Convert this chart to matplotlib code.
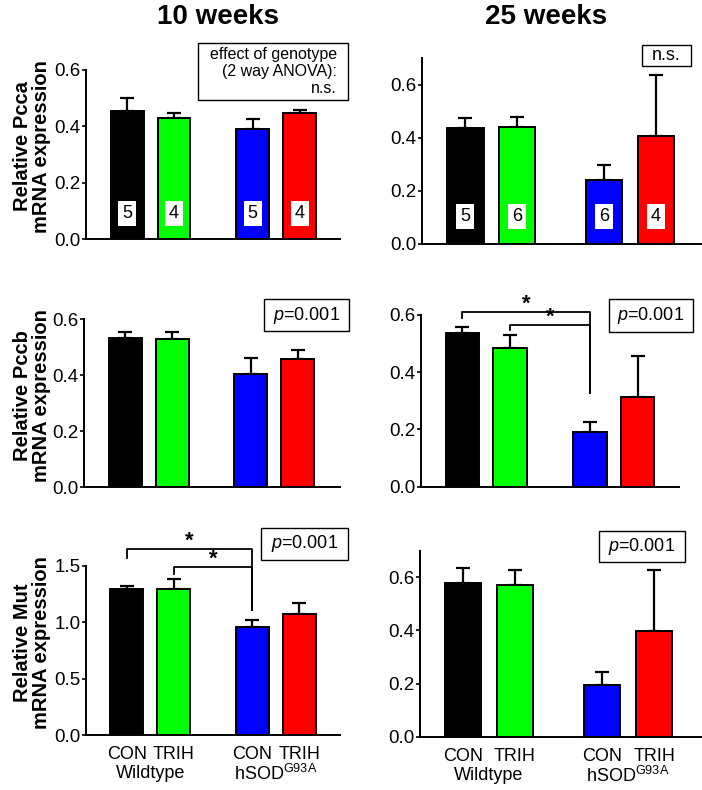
import matplotlib
matplotlib.use("Agg")
import matplotlib.pyplot as plt
from matplotlib.patches import Rectangle
import numpy as np

plt.rcParams['font.family'] = ['Liberation Sans', 'DejaVu Sans']
plt.rcParams['mathtext.fontset'] = 'custom'
plt.rcParams['mathtext.rm'] = 'Liberation Sans'
plt.rcParams['mathtext.it'] = 'Liberation Sans:italic'
plt.rcParams['mathtext.bf'] = 'Liberation Sans:bold'

# ---------------- data ----------------
groups = ["CON", "TRIH", "CON", "TRIH"]
genotypes = ["Wildtype", "hSOD$^{\\mathrm{G93A}}$"]
colors = ["#000000", "#00ff00", "#0000ff", "#ff0000"]
titles = ["10 weeks", "25 weeks"]
genes = ["Pcca", "Pccb", "Mut"]

pcca_10w = [0.454, 0.430, 0.392, 0.448]
pcca_10w_sem = [0.048, 0.018, 0.035, 0.010]
pcca_25w = [0.436, 0.440, 0.241, 0.407]
pcca_25w_sem = [0.040, 0.037, 0.055, 0.230]
pccb_10w = [0.534, 0.529, 0.406, 0.457]
pccb_10w_sem = [0.021, 0.027, 0.055, 0.032]
pccb_25w = [0.538, 0.485, 0.192, 0.313]
pccb_25w_sem = [0.021, 0.044, 0.033, 0.145]
mut_10w = [1.293, 1.298, 0.956, 1.071]
mut_10w_sem = [0.029, 0.086, 0.064, 0.097]
mut_25w = [0.579, 0.572, 0.195, 0.396]
mut_25w_sem = [0.056, 0.057, 0.048, 0.230]

n_10w = [5, 4, 5, 4]
n_25w = [5, 6, 6, 4]

stats_text = {
    (0, 0): "effect of genotype\n(2 way ANOVA):\nn.s.",
    (0, 1): "n.s.",
    (1, 0): "$p$=0.001",
    (1, 1): "$p$=0.001",
    (2, 0): "$p$=0.001",
    (2, 1): "$p$=0.001",
}

# ---------------- layout ----------------
W, H = 702, 790
fig = plt.figure(figsize=(W / 100, H / 100), dpi=100)

def fx(px):
    return px / W

def fy(py):
    return 1 - py / H

xpos = np.array([0, 1, 2.68, 3.68])
bar_w = 0.7

# (left px, right px, y0 px, px of ymax, ymax, yticks)
panels = {
    (0, 0): (86, 340, 239, 70, 0.6, [0, 0.2, 0.4, 0.6]),
    (0, 1): (421.7, 701.7, 244, 58.3, 0.7, [0, 0.2, 0.4, 0.6]),
    (1, 0): (84, 340, 487.3, 319.3, 0.6, [0, 0.2, 0.4, 0.6]),
    (1, 1): (420.7, 679.3, 486.7, 315, 0.6, [0, 0.2, 0.4, 0.6]),
    (2, 0): (86, 340, 735, 566, 1.5, [0, 0.5, 1.0, 1.5]),
    (2, 1): (420, 701.7, 736.7, 550.7, 0.7, [0, 0.2, 0.4, 0.6]),
}
xlims = {
    (0, 0): (-0.877, 4.54), (0, 1): (-0.845, 4.566),
    (1, 0): (-0.884, 4.584), (1, 1): (-0.875, 4.554),
    (2, 0): (-0.868, 4.547), (2, 1): (-0.83, 4.597),
}

data = {
    (0, 0): (pcca_10w, pcca_10w_sem), (0, 1): (pcca_25w, pcca_25w_sem),
    (1, 0): (pccb_10w, pccb_10w_sem), (1, 1): (pccb_25w, pccb_25w_sem),
    (2, 0): (mut_10w, mut_10w_sem), (2, 1): (mut_25w, mut_25w_sem),
}

# stat boxes (left, top, right, bottom) in px
boxes = {
    (0, 0): (198, 43, 348, 100),
    (0, 1): (642, 45, 691, 66),
    (1, 0): (264, 299, 349, 331),
    (1, 1): (609, 299, 693, 332),
    (2, 0): (261, 528, 348, 560),
    (2, 1): (599, 531, 685, 562),
}

# brackets: (start bar index, y line, left drop end, right drop end)
brackets = {
    (1, 1): [(0, 0.610, 0.589, 0.326), (1, 0.565, 0.548, 0.326)],
    (2, 0): [(0, 1.650, 1.568, 1.109), (1, 1.494, 1.429, 1.109)],
}

for (r, c), (l, rr, y0, yt, ymax, yt_list) in panels.items():
    ax = fig.add_axes([fx(l), fy(y0), (rr - l) / W, (y0 - yt) / H])
    means, sems = data[(r, c)]
    ax.bar(xpos, means, width=bar_w, color=colors, edgecolor="black",
           linewidth=1.4, zorder=3)
    ax.errorbar(xpos, means, yerr=[np.zeros(4), sems], fmt="none",
                ecolor="black", elinewidth=1.6, capsize=5, capthick=1.6,
                zorder=2, clip_on=False)
    ax.set_xlim(*xlims[(r, c)])
    ax.set_ylim(0, ymax)
    ax.set_yticks(yt_list)
    ax.set_yticklabels([f"{v:.1f}" for v in yt_list])
    for s in ["top", "right"]:
        ax.spines[s].set_visible(False)
    for s in ["left", "bottom"]:
        ax.spines[s].set_linewidth(1.4)
    ax.tick_params(axis="y", length=3, width=1.2, pad=1, labelsize=13.5)
    ax.tick_params(axis="x", length=0)
    ax.patch.set_alpha(0)
    if r == 2:
        ax.set_xticks(xpos)
        ax.set_xticklabels(groups, fontsize=13)
        ax.tick_params(axis="x", pad=8)
        for gi, gname in enumerate(genotypes):
            cx = (xpos[2 * gi] + xpos[2 * gi + 1]) / 2
            ax.annotate(gname, xy=(cx, 0), xycoords=("data", "axes fraction"),
                        xytext=(0, -28), textcoords="offset points",
                        ha="center", va="center", fontsize=13,
                        annotation_clip=False)
    else:
        ax.set_xticks([])

    # n labels
    if r == 0:
        ns = n_10w if c == 0 else n_25w
        for xi, nv in zip(xpos, ns):
            ax.text(xi, 0.15, str(nv), transform=ax.get_xaxis_transform(),
                    ha="center", va="center", fontsize=13, zorder=5,
                    bbox=dict(boxstyle="square,pad=0.22", fc="white", ec="none"))

    # brackets
    if (r, c) in brackets:
        for (i0, yl, yd_l, yd_r) in brackets[(r, c)]:
            xa, xb = xpos[i0], xpos[2]
            ax.plot([xa, xa, xb, xb], [yd_l, yl, yl, yd_r], color="black",
                    lw=1.3, clip_on=False, zorder=4)
            ax.annotate("*", xy=((xa + xb) / 2, yl), xycoords="data",
                        xytext=(0, -2), textcoords="offset points",
                        ha="center", va="bottom", fontsize=16,
                        fontweight="bold", annotation_clip=False)

    # y label
    if c == 0:
        ycen = (y0 + yt) / 2 - 8
        fig.text(fx(32), fy(ycen), f"Relative {genes[r]}\nmRNA expression",
                 rotation=90, ha="center", va="center", fontsize=14.5,
                 fontweight="bold", linespacing=1.05)

# stat boxes
for key, (bl, bt, br, bb) in boxes.items():
    rect = Rectangle((fx(bl), fy(bb)), (br - bl) / W, (bb - bt) / H,
                     transform=fig.transFigure, fill=True, fc="white",
                     ec="black", lw=1.0, zorder=10)
    fig.add_artist(rect)
    txt = stats_text[key]
    if "\n" in txt:
        fig.text(fx(br - 11), fy((bt + bb) / 2), txt, ha="right", va="center",
                 fontsize=11.5, linespacing=1.15, zorder=11)
    else:
        fig.text(fx((bl + br) / 2), fy((bt + bb) / 2), txt, ha="center",
                 va="center", fontsize=13, zorder=11)

# titles
for tx, t in zip([218, 546], titles):
    fig.text(fx(tx), fy(17), t, ha="center", va="center",
             fontsize=20, fontweight="bold")

fig.savefig("out.png", dpi=100)
